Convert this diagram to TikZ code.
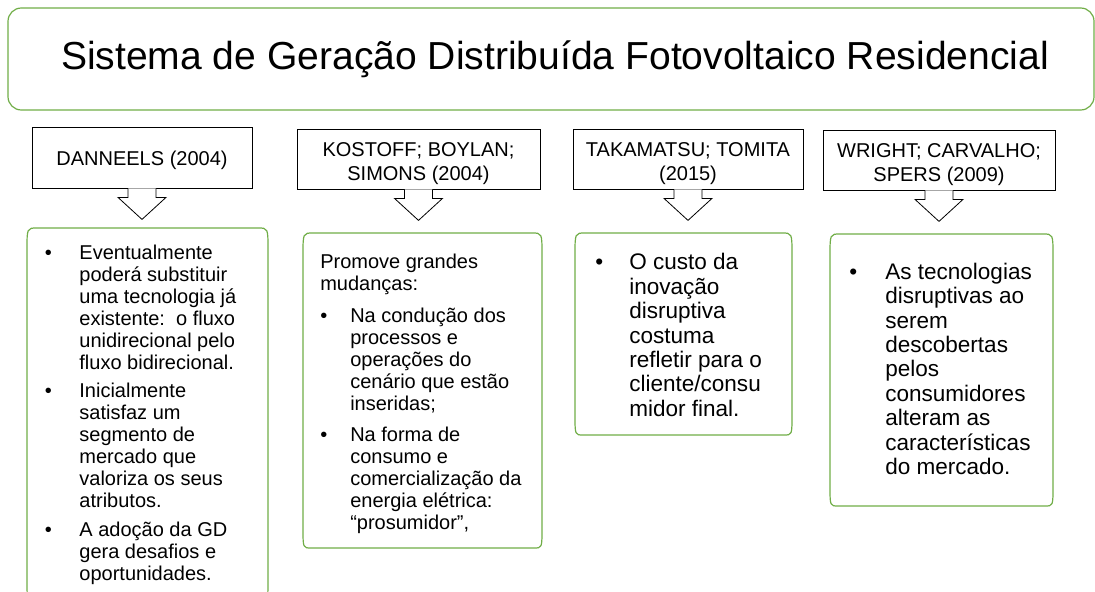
\documentclass[tikz,border=0pt]{standalone}
\usepackage{fontspec}
\setmainfont{Liberation Sans}
\usetikzlibrary{calc}

\newdimen\px
\px=0.75pt

\definecolor{boxgreen}{RGB}{112,173,71}

\newcommand{\bodyfont}{\fontsize{15pt}{16.5pt}\selectfont}
\newcommand{\bigbodyfont}{\fontsize{16.9pt}{18.3pt}\selectfont}

% header text, lowered a little inside its box
\newcommand{\hdr}[2][-3.4pt]{\raisebox{#1}[\height][\depth]{\begin{tabular}{@{}c@{}}#2\end{tabular}}}

% green frame with tall rounded corners around a node
\newcommand{\greenframe}[1]{%
  \draw[greenline] ($(#1.north west)+(10,0)$) -- ($(#1.north east)+(-10,0)$)
    .. controls (#1.north east) .. ($(#1.north east)+(0,22)$)
    -- ($(#1.south east)+(0,-20)$)
    .. controls (#1.south east) .. ($(#1.south east)+(-8,0)$)
    -- ($(#1.south west)+(8,0)$)
    .. controls (#1.south west) .. ($(#1.south west)+(0,-20)$)
    -- ($(#1.north west)+(0,22)$)
    .. controls (#1.north west) .. cycle;}

% hollow block arrow under a reference box
\newcommand{\blockarrow}[1]{%
  \draw[arr] ($(#1.south)+(-14,0)$) -- ++(0,9) -- ++(-10,0) -- ++(24,22)
    -- ++(24,-22) -- ++(-10,0) -- ++(0,-9);}

\tikzset{
  titlebox/.style={draw=boxgreen, line width=0.9pt, rounded corners=10pt,
    minimum width=1086\px, minimum height=102\px,
    font=\fontsize{29.3pt}{34pt}\selectfont},
  refbox/.style={draw=black, line width=0.6pt, fill=white, align=center,
    inner sep=0pt, font=\fontsize{15pt}{18pt}\selectfont},
  contentbox/.style={draw=none, inner sep=0pt, outer sep=0pt, anchor=north west},
  greenline/.style={draw=boxgreen, line width=0.9pt},
  arr/.style={draw=black, line width=0.6pt, fill=white},
  txt/.style={anchor=north west, inner sep=0pt, align=left},
}

\begin{document}
\begin{tikzpicture}[x=0.75pt, y=-0.75pt]

\clip (0,0) rectangle (1095,592);

\node[titlebox] (title) at (551,59) {\hspace*{8\px}Sistema de Geração Distribuída Fotovoltaico Residencial};

% references
\node[refbox, minimum width=220\px, minimum height=61\px] (h1) at (142,157.5) {\hdr[-2.3pt]{DANNEELS (2004)}};
\node[refbox, minimum width=243\px, minimum height=60\px] (h2) at (418.5,159) {\hdr{KOSTOFF; BOYLAN;\\SIMONS (2004)}};
\node[refbox, minimum width=230\px, minimum height=60\px] (h3) at (688,159) {\hdr{TAKAMATSU; TOMITA\\(2015)}};
\node[refbox, minimum width=232\px, minimum height=60\px] (h4) at (939,160) {\hdr{WRIGHT; CARVALHO;\\SPERS (2009)}};

\blockarrow{h1}
\blockarrow{h2}
\blockarrow{h3}
\blockarrow{h4}

% content boxes
\node[contentbox, minimum width=241\px, minimum height=372\px] (c1) at (27,228) {};
\node[contentbox, minimum width=239\px, minimum height=315\px] (c2) at (303,233) {};
\node[contentbox, minimum width=217\px, minimum height=202\px] (c3) at (575,233) {};
\node[contentbox, minimum width=223\px, minimum height=272\px] (c4) at (830,234) {};

\greenframe{c1}
\greenframe{c2}
\greenframe{c3}
\greenframe{c4}

\node[txt, font=\bodyfont] (t1) at (44.5,243.5) {\begin{tabular}{@{}p{26pt}@{}l@{}}
• & Eventualmente\\
  & poderá substituir\\
  & uma tecnologia já\\
  & existente:\ \ o fluxo\\
  & unidirecional pelo\\
  & fluxo bidirecional.\\[5pt]
• & Inicialmente\\
  & satisfaz um\\
  & segmento de\\
  & mercado que\\
  & valoriza os seus\\
  & atributos.\\[5pt]
• & A adoção da GD\\
  & gera desafios e\\
  & oportunidades.
\end{tabular}};

\node[txt, font=\bodyfont] (t2) at (320,253) {\begin{tabular}{@{}p{22.5pt}@{}l@{}}
\multicolumn{2}{@{}l@{}}{Promove grandes}\\
\multicolumn{2}{@{}l@{}}{mudanças:}\\[7pt]
• & Na condução dos\\
  & processos e\\
  & operações do\\
  & cenário que estão\\
  & inseridas;\\[7pt]
• & Na forma de\\
  & consumo e\\
  & comercialização da\\
  & energia elétrica:\\
  & “prosumidor”,
\end{tabular}};

\node[txt, font=\bigbodyfont] (t3) at (595,252.5) {\begin{tabular}{@{}p{25.5pt}@{}l@{}}
• & O custo da\\
  & inovação\\
  & disruptiva\\
  & costuma\\
  & refletir para o\\
  & cliente/consu\\
  & midor final.
\end{tabular}};

\node[txt, font=\bigbodyfont] (t4) at (849,262) {\begin{tabular}{@{}p{27pt}@{}l@{}}
• & As tecnologias\\
  & disruptivas ao\\
  & serem\\
  & descobertas\\
  & pelos\\
  & consumidores\\
  & alteram as\\
  & características\\
  & do mercado.
\end{tabular}};

\end{tikzpicture}
\end{document}
